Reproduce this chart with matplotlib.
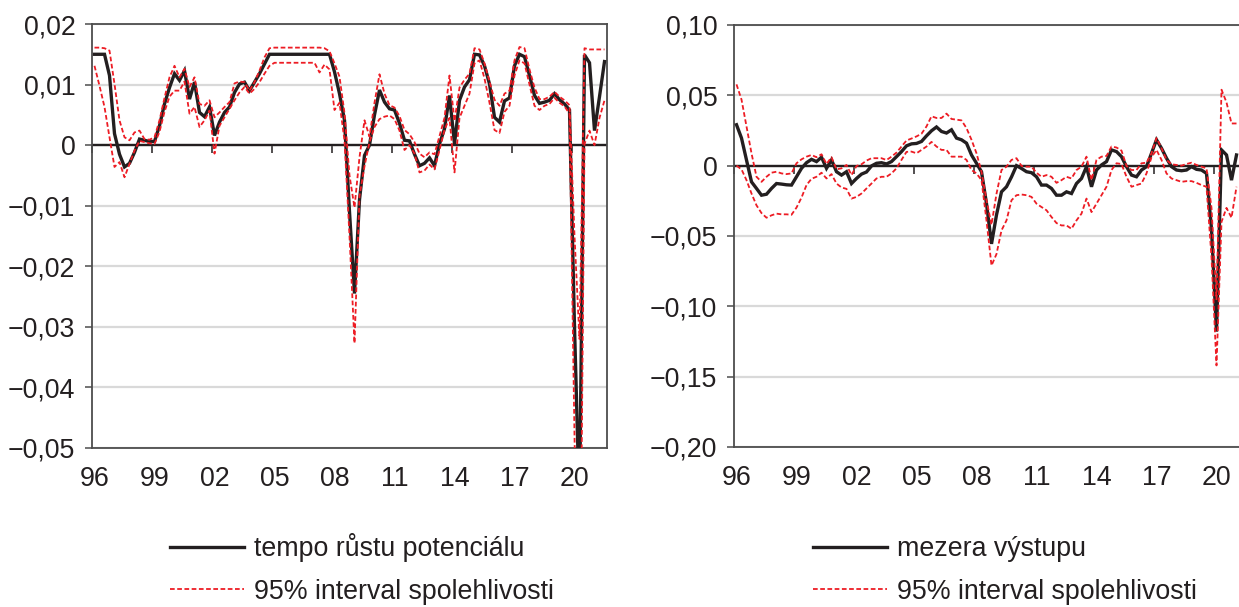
import numpy as np
import matplotlib
matplotlib.use("Agg")
import matplotlib.pyplot as plt
from matplotlib.lines import Line2D

plt.rcParams['font.family'] = ['Liberation Sans', 'DejaVu Sans']

# ---------------- data (quarterly, from 1996Q1) ----------------
start_year = 1996
n_quarters = 103
tick_years = [1996, 1999, 2002, 2005, 2008, 2011, 2014, 2017, 2020]
tick_labels = ['96', '99', '02', '05', '08', '11', '14', '17', '20']

growth = [0.0150, 0.0150, 0.0150, 0.0115, 0.0019, -0.0015, -0.0036, -0.0030, -0.0012, 0.0010,
          0.0008, 0.0006, 0.0006, 0.0032, 0.0068, 0.0095, 0.0118, 0.0107, 0.0123, 0.0076,
          0.0104, 0.0054, 0.0047, 0.0063, 0.0016, 0.0038, 0.0054, 0.0063, 0.0087, 0.0101,
          0.0104, 0.0090, 0.0104, 0.0118, 0.0134, 0.0150,
          0.0150, 0.0150, 0.0150, 0.0150, 0.0150, 0.0150, 0.0150, 0.0150, 0.0150, 0.0150,
          0.0150, 0.0150,
          0.0121, 0.0085, 0.0041, -0.0110, -0.0245, -0.0090, -0.0017, 0.0000, 0.0050, 0.0091,
          0.0071, 0.0060, 0.0058, 0.0036, 0.0008, 0.0007, -0.0015, -0.0034, -0.0030, -0.0021,
          -0.0034, 0.0002, 0.0027, 0.0082, 0.0002, 0.0074, 0.0096, 0.0108, 0.0150, 0.0149,
          0.0131, 0.0101, 0.0046, 0.0038, 0.0073, 0.0078, 0.0131, 0.0150, 0.0146, 0.0115,
          0.0082, 0.0069, 0.0071, 0.0074, 0.0085, 0.0075, 0.0068, 0.0058, -0.0300, -0.0600,
          0.0149, 0.0136, 0.0024, 0.0080, 0.0138]

growth_hi = [0.0161, 0.0161, 0.0160, 0.0156, 0.0101, 0.0041, 0.0013, 0.0008, 0.0021, 0.0024,
             0.0010, 0.0009, 0.0013, 0.0041, 0.0078, 0.0112, 0.0131, 0.0112, 0.0126, 0.0096,
             0.0112, 0.0068, 0.0065, 0.0074, 0.0046, 0.0054, 0.0063, 0.0071, 0.0102, 0.0105,
             0.0104, 0.0090, 0.0104, 0.0123, 0.0145, 0.0160,
             0.0161, 0.0161, 0.0161, 0.0161, 0.0161, 0.0161, 0.0161, 0.0161, 0.0161, 0.0161,
             0.0160, 0.0155, 0.0135, 0.0113, 0.0053, -0.0050, -0.0103, -0.0020, 0.0041, 0.0014,
             0.0070, 0.0117, 0.0085, 0.0066, 0.0062, 0.0048, 0.0025, 0.0018, 0.0005, -0.0014,
             -0.0020, -0.0012, -0.0015, 0.0015, 0.0045, 0.0115, 0.0040, 0.0095, 0.0108, 0.0118,
             0.0160, 0.0158, 0.0135, 0.0105, 0.0075, 0.0065, 0.0085, 0.0090, 0.0140, 0.0162,
             0.0160, 0.0125, 0.0095, 0.0076, 0.0076, 0.0080, 0.0088, 0.0080, 0.0074, 0.0066,
             -0.0150, -0.0320, 0.0160, 0.0158, 0.0158, 0.0158, 0.0158]

growth_lo = [0.0131, 0.0098, 0.0063, 0.0013, -0.0036, -0.0028, -0.0053, -0.0031, -0.0009, 0.0007,
             0.0005, 0.0003, 0.0002, 0.0022, 0.0055, 0.0080, 0.0090, 0.0090, 0.0105, 0.0052,
             0.0063, 0.0030, 0.0041, 0.0057, -0.0014, 0.0032, 0.0046, 0.0060, 0.0074, 0.0087,
             0.0096, 0.0085, 0.0093, 0.0104, 0.0118, 0.0131,
             0.0136, 0.0136, 0.0136, 0.0136, 0.0136, 0.0136, 0.0136, 0.0136, 0.0136,
             0.0120, 0.0133, 0.0125, 0.0058, 0.0070, 0.0008, -0.0150, -0.0327, -0.0084, -0.0035,
             0.0005, 0.0030, 0.0043, 0.0047, 0.0049, 0.0043, 0.0024, -0.0008, 0.0000, -0.0014,
             -0.0045, -0.0042, -0.0032, -0.0040, -0.0008, 0.0025, 0.0045, -0.0045, 0.0045, 0.0065,
             0.0085, 0.0135, 0.0140, 0.0110, 0.0070, 0.0025, 0.0020, 0.0055, 0.0065, 0.0115,
             0.0140, 0.0135, 0.0100, 0.0065, 0.0058, 0.0065, 0.0068, 0.0078, 0.0070, 0.0064,
             0.0052, -0.0480, -0.0900, 0.0002, 0.0024, 0.0000, 0.0045, 0.0074]

gap = [0.0291, 0.0196, 0.0040, -0.0115, -0.0162, -0.0210, -0.0203, -0.0162, -0.0127, -0.0131,
       -0.0136, -0.0138, -0.0079, -0.0019, 0.0021, 0.0045, 0.0029, 0.0060, -0.0019, 0.0041,
       -0.0043, -0.0067, -0.0043, -0.0127, -0.0091, -0.0060, -0.0045, -0.0002, 0.0017, 0.0021,
       0.0012, 0.0029, 0.0064, 0.0100, 0.0141, 0.0155, 0.0158, 0.0172, 0.0212, 0.0248,
       0.0275, 0.0243, 0.0232, 0.0255, 0.0196, 0.0184, 0.0160, 0.0076, 0.0017, -0.0043,
       -0.0270, -0.0556, -0.0350, -0.0186, -0.0150, -0.0080, 0.0000, -0.0020, -0.0043, -0.0050,
       -0.0079, -0.0138, -0.0138, -0.0162, -0.0210, -0.0210, -0.0186, -0.0198, -0.0127, -0.0091,
       -0.0007, -0.0150, -0.0031, 0.0005, 0.0029, 0.0112, 0.0100, 0.0064, -0.0007, -0.0067,
       -0.0079, -0.0031, -0.0007, 0.0088, 0.0184, 0.0124, 0.0053, -0.0007, -0.0031, -0.0036,
       -0.0031, -0.0007, -0.0026, -0.0031, -0.0055, -0.0450, -0.1180, 0.0112, 0.0076, -0.0103,
       0.0076]

gap_hi = [0.0578, 0.0470, 0.0279, 0.0088, -0.0079, -0.0115, -0.0079, -0.0050, -0.0043, -0.0055,
          -0.0060, -0.0055, 0.0017, 0.0045, 0.0064, 0.0076, 0.0060, 0.0081, 0.0012, 0.0060,
          -0.0026, -0.0019, 0.0005, -0.0067, -0.0002, 0.0010, 0.0036, 0.0053, 0.0053, 0.0053,
          0.0040, 0.0064, 0.0093, 0.0136, 0.0179, 0.0193, 0.0208, 0.0227, 0.0279, 0.0351,
          0.0339, 0.0339, 0.0370, 0.0332, 0.0327, 0.0322, 0.0267, 0.0184, 0.0088, -0.0043,
          -0.0246, -0.0420, -0.0200, -0.0031, -0.0007, 0.0041, 0.0053, -0.0002, -0.0007, -0.0007,
          -0.0050, -0.0079, -0.0067, -0.0079, -0.0122, -0.0103, -0.0079, -0.0091, -0.0031, -0.0007,
          0.0064, -0.0103, 0.0041, 0.0064, 0.0069, 0.0136, 0.0129, 0.0107, -0.0002, -0.0031,
          -0.0031, 0.0017, 0.0021, 0.0088, 0.0196, 0.0124, 0.0041, 0.0010, 0.0005, 0.0000,
          0.0012, 0.0021, 0.0005, -0.0007, -0.0019, -0.0300, -0.0950, 0.0540, 0.0450, 0.0300,
          0.0300]

gap_lo = [0.0000, -0.0026, -0.0103, -0.0198, -0.0282, -0.0337, -0.0370, -0.0353, -0.0341, -0.0346,
          -0.0346, -0.0349, -0.0298, -0.0227, -0.0138, -0.0093, -0.0079, -0.0050, -0.0091, -0.0060,
          -0.0127, -0.0155, -0.0165, -0.0234, -0.0222, -0.0198, -0.0162, -0.0127, -0.0091, -0.0079,
          -0.0079, -0.0055, -0.0019, 0.0041, 0.0098, 0.0100, 0.0088, 0.0112, 0.0136, 0.0169,
          0.0136, 0.0112, 0.0112, 0.0064, 0.0064, 0.0064, 0.0041, -0.0031, -0.0055, -0.0103,
          -0.0390, -0.0710, -0.0628, -0.0460, -0.0389, -0.0246, -0.0210, -0.0205, -0.0210, -0.0222,
          -0.0270, -0.0294, -0.0317, -0.0365, -0.0408, -0.0425, -0.0425, -0.0449, -0.0389, -0.0341,
          -0.0234, -0.0330, -0.0270, -0.0210, -0.0150, -0.0031, 0.0017, 0.0012, -0.0079, -0.0150,
          -0.0138, -0.0127, -0.0055, 0.0060, 0.0112, 0.0041, -0.0055, -0.0091, -0.0103, -0.0115,
          -0.0110, -0.0110, -0.0122, -0.0138, -0.0150, -0.0650, -0.1420, -0.0400, -0.0300, -0.0370,
          -0.0150]

left_yticks = [0.02, 0.01, 0.0, -0.01, -0.02, -0.03, -0.04, -0.05]
left_ylabels = ['0,02', '0,01', '0', '\u22120,01', '\u22120,02', '\u22120,03', '\u22120,04', '\u22120,05']
right_yticks = [0.10, 0.05, 0.0, -0.05, -0.10, -0.15, -0.20]
right_ylabels = ['0,10', '0,05', '0', '\u22120,05', '\u22120,10', '\u22120,15', '\u22120,20']

label_main_left = 'tempo růstu potenciálu'
label_main_right = 'mezera výstupu'
label_band = '95% interval spolehlivosti'

# ---------------- styling ----------------
W, H = 1239, 607
FS = 19.3
BLACK = '#231f20'
RED = '#ed1c24'
GRID = '#d9d9d9'
FRAME = '#4d4d4d'

fig = plt.figure(figsize=(W / 100, H / 100), dpi=100)


def px_axes(x0, y_top, w, h):
    return fig.add_axes([x0 / W, 1 - (y_top + h) / H, w / W, h / H])


def draw_panel(ax, main, hi, lo, yticks, ylabels):
    x = start_year + (np.arange(len(main)) + 0.5) / 4.0
    ax.set_xlim(start_year, start_year + n_quarters / 4.0)
    ax.set_ylim(min(yticks), max(yticks))
    ax.set_yticks(yticks)
    ax.set_yticklabels(ylabels)
    ax.yaxis.grid(True, color=GRID, lw=1.6)
    ax.set_axisbelow(True)
    ax.axhline(0, color=BLACK, lw=1.7, zorder=2)
    ax.plot(x, main, color=BLACK, lw=2.4, zorder=3, solid_joinstyle='miter')
    for band in (hi, lo):
        ax.plot(x, band, color=RED, lw=1.3, dashes=(2.6, 1.4), zorder=4)
    for s in ax.spines.values():
        s.set_color(FRAME)
        s.set_linewidth(1.3)
    ax.tick_params(axis='y', direction='out', length=5, width=1.1, color=FRAME,
                   pad=7, labelsize=FS, labelcolor=BLACK)
    ax.set_xticks([yr + 0.125 for yr in tick_years])
    ax.set_xticklabels(tick_labels)
    ax.tick_params(axis='x', length=0, pad=13, labelsize=FS, labelcolor=BLACK)
    # tick marks on the zero line
    ymin, ymax = min(yticks), max(yticks)
    sec = ax.secondary_xaxis((0 - ymin) / (ymax - ymin))
    sec.set_alignment('bottom')
    sec.set_xticks(tick_years)
    sec.tick_params(axis='x', direction='out', length=6, width=1.1, color=BLACK,
                    labelbottom=False, labeltop=False)
    for s in sec.spines.values():
        s.set_visible(False)


axL = px_axes(92, 24, 515, 424)
draw_panel(axL, growth, growth_hi, growth_lo, left_yticks, left_ylabels)
axR = px_axes(734, 25, 515, 422)
draw_panel(axR, gap, gap_hi, gap_lo, right_yticks, right_ylabels)


def add_legend(main_label, x_px, y_px):
    handles = [Line2D([], [], color=BLACK, lw=2.4),
               Line2D([], [], color=RED, lw=1.3, dashes=(2.6, 1.4))]
    fig.legend(handles, [main_label, label_band], loc='upper left',
               bbox_to_anchor=(x_px / W, 1 - y_px / H), frameon=False,
               borderpad=0, borderaxespad=0, handlelength=2.75, handletextpad=0.38,
               labelspacing=0.62, fontsize=FS, labelcolor=BLACK)


add_legend(label_main_left, 170, 533)
add_legend(label_main_right, 813, 536)

fig.savefig('out.png', dpi=100)
